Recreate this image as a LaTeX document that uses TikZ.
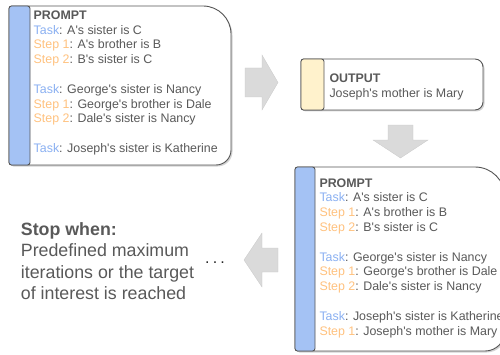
\documentclass[tikz,border=0pt]{standalone}
\usepackage{fontspec}
\newfontfamily\arial{Liberation Sans}
\usepackage{tikz}
\usetikzlibrary{shadows}
\definecolor{mGray}{HTML}{595959}
\definecolor{mEdge}{HTML}{555555}
\definecolor{mBlue}{HTML}{A4C2F4}
\definecolor{mCream}{HTML}{FFF2CC}
\definecolor{mTask}{HTML}{8AB0F2}
\definecolor{mStep}{HTML}{FFC27F}
\definecolor{mArrow}{HTML}{DADADA}
\newcommand{\tasklbl}{\textcolor{mTask}{Task}}
\newcommand{\steplbl}[1]{\textcolor{mStep}{Step #1}}

\begin{document}
\begin{tikzpicture}[x=1pt, y=1pt,
  panel/.style={draw=mEdge, line width=0.9pt, fill=white,
    drop shadow={shadow xshift=1.5pt, shadow yshift=-1.5pt, opacity=0.35}},
  strip/.style={draw=mEdge, line width=0.9pt, rounded corners=2.5pt},
  txt/.style={anchor=north west, inner sep=0pt, align=left, text=mGray,
    font=\arial\fontsize{12.4}{14.8}\selectfont},
  big/.style={anchor=north west, inner sep=0pt, align=left, text=mGray,
    font=\arial\fontsize{17.8}{21.5}\selectfont},
  blockarr/.style={fill=mArrow, draw=mArrow!92!black, line width=0.3pt},
]
  \useasboundingbox (0,0) rectangle (500,354);

  \draw[panel] (12,348) -- (203,348) arc[start angle=90, end angle=0, radius=28]
    -- (231,204) arc[start angle=0, end angle=-90, radius=15]
    -- (12,189) arc[start angle=270, end angle=180, radius=3]
    -- (9,345) arc[start angle=180, end angle=90, radius=3] -- cycle;
  \draw[strip, fill=mBlue] (9,189) rectangle (30,348);

  \draw[panel] (304,295) -- (475,295) arc[start angle=90, end angle=0, radius=8]
    -- (483,252) arc[start angle=0, end angle=-90, radius=8]
    -- (304,244) arc[start angle=270, end angle=180, radius=3]
    -- (301,292) arc[start angle=180, end angle=90, radius=3] -- cycle;
  \draw[strip, fill=mCream] (301,244) rectangle (324,295);

  \draw[panel] (298,187) -- (475,187) arc[start angle=90, end angle=0, radius=30]
    -- (505,23) arc[start angle=0, end angle=-90, radius=20]
    -- (298,3) arc[start angle=270, end angle=180, radius=3]
    -- (295,184) arc[start angle=180, end angle=90, radius=3] -- cycle;
  \draw[strip, fill=mBlue] (295,3) rectangle (315,187);

  \draw[blockarr] (245,286) -- (262,286) -- (262,299) -- (278,271.5)
    -- (262,244) -- (262,257) -- (245,257) -- cycle;
  \draw[blockarr] (388,229) -- (413,229) -- (413,214) -- (428,214)
    -- (400.5,196) -- (373,214) -- (388,214) -- cycle;
  \draw[blockarr] (278,106) -- (262,106) -- (262,121) -- (244,94)
    -- (262,67) -- (262,82) -- (278,82) -- cycle;

  \node[txt] (prompt1) at (33.5,343.5) {\textbf{PROMPT}\\
    \tasklbl: A's sister is C\\
    \steplbl{1}: A's brother is B\\
    \steplbl{2}: B's sister is C\\[14.8pt]
    \tasklbl: George's sister is Nancy\\
    \steplbl{1}: George's brother is Dale\\
    \steplbl{2}: Dale's sister is Nancy\\[14.8pt]
    \tasklbl: Joseph's sister is Katherine};

  \node[txt] (output) at (329.3,280) {\textbf{OUTPUT}\\
    Joseph's mother is Mary};

  \node[txt] (prompt2) at (319.3,175.7) {\textbf{PROMPT}\\
    \tasklbl: A's sister is C\\
    \steplbl{1}: A's brother is B\\
    \steplbl{2}: B's sister is C\\[14.8pt]
    \tasklbl: George's sister is Nancy\\
    \steplbl{1}: George's brother is Dale\\
    \steplbl{2}: Dale's sister is Nancy\\[14.8pt]
    \tasklbl: Joseph's sister is Katherine\\
    \steplbl{1}: Joseph's mother is Mary};

  \node[big] (stop) at (20.7,132) {\textbf{Stop when:}\\
    Predefined maximum\\
    iterations or the target\\
    of interest is reached};

  \node[inner sep=0pt, text=black!85, font=\arial\fontsize{16}{20}\selectfont]
    (dots) at (215,91) {.\hspace{3.2pt}.\hspace{3.2pt}.};
\end{tikzpicture}
\end{document}
